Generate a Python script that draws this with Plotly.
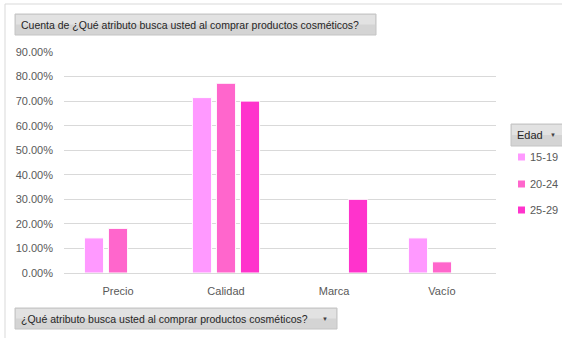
import plotly.graph_objects as go

categories = ["Precio", "Calidad", "Marca", "Vacío"]
series_names = ["15-19", "20-24", "25-29"]
vals_15_19 = [0.1429, 0.7143, None, 0.1429]
vals_20_24 = [0.1818, 0.7727, None, 0.0455]
vals_25_29 = [None, 0.70, 0.30, None]
colors = ["#FF99FF", "#FF66CC", "#FF33CC"]
tick_vals = [0, 0.1, 0.2, 0.3, 0.4, 0.5, 0.6, 0.7, 0.8, 0.9]

W, H = 562, 338
L, R, T, B = 64, 66, 52, 65
PW, PH = W - L - R, H - T - B

def px(x):
    return (x - L) / PW

def py(y):
    return (H - B - y) / PH

fig = go.Figure()
for name, vals, col in zip(series_names, [vals_15_19, vals_20_24, vals_25_29], colors):
    fig.add_trace(go.Bar(
        x=categories, y=vals, name=name,
        marker=dict(color=col, line=dict(color="white", width=1)),
        showlegend=False, hoverinfo="skip"))

font_main = "Liberation Sans, Arial, sans-serif"
grey_txt = "#595959"

shapes = []
annotations = []

# chart border
shapes.append(dict(type="line", xref="paper", yref="paper", x0=px(5), x1=px(562), y0=py(4), y1=py(4),
                   line=dict(color="#d9d9d9", width=1)))
shapes.append(dict(type="line", xref="paper", yref="paper", x0=px(5), x1=px(5), y0=py(4), y1=py(338),
                   line=dict(color="#d9d9d9", width=1)))

def button(x0, y0, x1, y1, text, arrow_x=None, fsize=10.5):
    # gradient-ish button
    shapes.append(dict(type="rect", xref="paper", yref="paper", x0=px(x0), x1=px(x1), y0=py(y0), y1=py(y1),
                       fillcolor="#d4d4d4", line=dict(color="#c4c4c4", width=1), layer="above"))
    mid = (y0 + y1) / 2
    shapes.append(dict(type="rect", xref="paper", yref="paper", x0=px(x0 + 1), x1=px(x1 - 1), y0=py(y0 + 1), y1=py(mid),
                       fillcolor="#e2e2e2", line=dict(width=0), layer="above"))
    annotations.append(dict(xref="paper", yref="paper", x=px(x0 + 4), y=py(mid), text=text, showarrow=False,
                            xanchor="left", yanchor="middle", font=dict(family=font_main, size=fsize, color="#262626")))
    if arrow_x is not None:
        annotations.append(dict(xref="paper", yref="paper", x=px(arrow_x), y=py(mid), text="▼", showarrow=False,
                                xanchor="center", yanchor="middle", font=dict(family=font_main, size=6, color="#404040")))

button(15, 14, 376, 35, "Cuenta de ¿Qué atributo busca usted al comprar productos cosméticos?")
button(15, 308, 337, 329, "¿Qué atributo busca usted al comprar productos cosméticos?", arrow_x=325)
button(511, 124, 566, 146, "Edad", arrow_x=553, fsize=11)

# custom legend
leg_y = [157, 184, 210]
for name, col, yy in zip(series_names, colors, leg_y):
    shapes.append(dict(type="rect", xref="paper", yref="paper", x0=px(518), x1=px(525), y0=py(yy - 3.5), y1=py(yy + 3.5),
                       fillcolor=col, line=dict(width=0), layer="above"))
    annotations.append(dict(xref="paper", yref="paper", x=px(528), y=py(yy), text=name, showarrow=False,
                            xanchor="left", yanchor="middle", font=dict(family=font_main, size=11, color=grey_txt)))

fig.update_layout(
    width=W, height=H,
    margin=dict(l=L, r=R, t=T, b=B, pad=0),
    paper_bgcolor="white", plot_bgcolor="white",
    barmode="group", bargap=0.333, bargroupgap=0.2,
    shapes=shapes, annotations=annotations,
    xaxis=dict(type="category", categoryorder="array", categoryarray=categories,
               showline=False, ticks="", showgrid=False,
               tickfont=dict(family=font_main, size=11, color=grey_txt), ticklabelstandoff=10),
    yaxis=dict(range=[0, 0.9], tickvals=tick_vals, tickformat=".2%",
               showgrid=True, gridcolor="#d9d9d9", gridwidth=1,
               zeroline=True, zerolinecolor="#d9d9d9", zerolinewidth=1,
               showline=False, ticks="",
               tickfont=dict(family=font_main, size=11, color=grey_txt), ticklabelstandoff=10),
)

fig.write_html("out.html")
